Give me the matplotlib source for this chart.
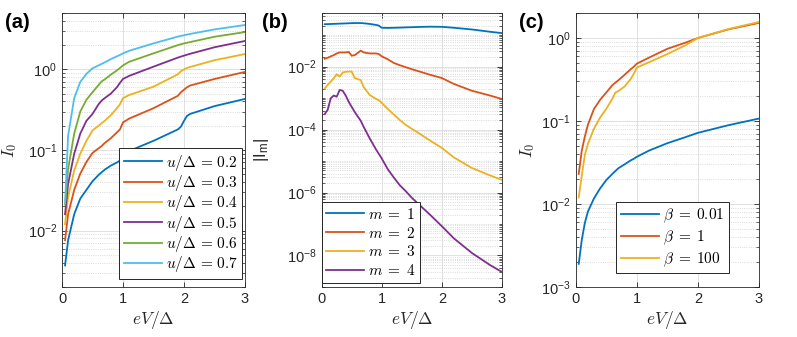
import numpy as np
import matplotlib
matplotlib.use("Agg")
import matplotlib.pyplot as plt
from matplotlib.ticker import FixedLocator, LogLocator, FuncFormatter, NullFormatter

plt.rcParams['font.family'] = ['Liberation Sans', 'DejaVu Sans']
plt.rcParams['mathtext.fontset'] = 'cm'

colors = ['#0072BD', '#D95319', '#EDB120', '#7E2F8E', '#77AC30', '#4DBEEE']

# ---------------- panel (a) ----------------
xa = [0.05, 0.1, 0.2, 0.3, 0.4, 0.5, 0.6, 0.65, 0.7, 0.8, 0.9, 0.95, 1.0, 1.1,
      1.5, 1.9, 1.95, 2.0, 2.05, 2.1, 2.5, 3.0]
u_labels = ['0.2', '0.3', '0.4', '0.5', '0.6', '0.7']
a_u02 = [0.0037, 0.0076, 0.016, 0.025, 0.032, 0.041, 0.049, 0.053, 0.057, 0.064, 0.070,
         0.074, 0.086, 0.097, 0.13, 0.18, 0.195, 0.23, 0.265, 0.28, 0.35, 0.43]
a_u03 = [0.0076, 0.016, 0.032, 0.051, 0.071, 0.092, 0.105, 0.112, 0.122, 0.14, 0.165,
         0.18, 0.22, 0.245, 0.33, 0.47, 0.52, 0.56, 0.60, 0.63, 0.76, 0.93]
a_u04 = [0.012, 0.026, 0.056, 0.09, 0.13, 0.175, 0.20, 0.215, 0.23, 0.27, 0.33,
         0.37, 0.44, 0.48, 0.61, 0.87, 0.95, 1.0, 1.04, 1.07, 1.3, 1.55]
a_u05 = [0.016, 0.038, 0.09, 0.16, 0.23, 0.28, 0.37, 0.41, 0.44, 0.50, 0.60,
         0.68, 0.76, 0.83, 1.08, 1.40, 1.44, 1.48, 1.52, 1.56, 1.88, 2.25]
a_u06 = [0.021, 0.058, 0.16, 0.30, 0.42, 0.52, 0.64, 0.71, 0.75, 0.86, 0.97,
         1.04, 1.12, 1.24, 1.58, 2.0, 2.05, 2.1, 2.14, 2.18, 2.54, 2.9]
a_u07 = [0.022, 0.15, 0.44, 0.70, 0.88, 1.03, 1.12, 1.17, 1.22, 1.34, 1.45,
         1.51, 1.58, 1.70, 2.1, 2.55, 2.6, 2.65, 2.7, 2.75, 3.13, 3.55]

# ---------------- panel (b) ----------------
xb = [0.05, 0.1, 0.15, 0.2, 0.25, 0.3, 0.35, 0.4, 0.45, 0.5, 0.55, 0.6, 0.65, 0.7,
      0.8, 0.9, 0.95, 1.0, 1.1, 1.2, 1.3, 1.4, 1.5, 1.6, 1.8, 2.0, 2.2, 2.5, 2.8, 3.0]
m_labels = ['1', '2', '3', '4']
b_m1 = [0.22, 0.222, 0.224, 0.226, 0.228, 0.23, 0.232, 0.234, 0.236, 0.238, 0.24, 0.24,
        0.24, 0.236, 0.225, 0.21, 0.2, 0.17, 0.168, 0.17, 0.172, 0.175, 0.177, 0.18,
        0.184, 0.182, 0.17, 0.15, 0.127, 0.115]
b_m2 = [0.0176, 0.019, 0.021, 0.023, 0.026, 0.028, 0.028, 0.028, 0.029, 0.022, 0.023,
        0.027, 0.032, 0.028, 0.026, 0.026, 0.025, 0.021, 0.017, 0.013, 0.011, 0.0095,
        0.0082, 0.0072, 0.0055, 0.0043, 0.0028, 0.0017, 0.0012, 0.00093]
b_m3 = [0.0020, 0.0026, 0.0033, 0.0042, 0.0057, 0.0048, 0.0064, 0.0068, 0.0069, 0.0069,
        0.0043, 0.0040, 0.0037, 0.0022, 0.00125, 0.00095, 0.00085, 0.0007, 0.00045,
        0.0003, 0.0002, 0.00014, 0.000105, 8e-5, 4.5e-5, 2.6e-5, 1.3e-5, 6e-6, 3.5e-6, 2.5e-6]
b_m4 = [3.1e-4, 4.2e-4, 9.8e-4, 1.2e-3, 1.1e-3, 1.8e-3, 1.7e-3, 1.2e-3, 7.6e-4, 5.2e-4,
        3.6e-4, 2.6e-4, 1.9e-4, 1.2e-4, 5.2e-5, 2.4e-5, 1.7e-5, 1.2e-5, 5.5e-6, 3e-6,
        1.7e-6, 1.1e-6, 6.8e-7, 4.5e-7, 2.0e-7, 8.5e-8, 3.5e-8, 1.2e-8, 5e-9, 3.0e-9]

# ---------------- panel (c) ----------------
xc = [0.05, 0.1, 0.15, 0.2, 0.3, 0.4, 0.5, 0.6, 0.65, 0.7, 0.8, 0.9, 0.95, 1.0,
      1.2, 1.5, 1.8, 2.0, 2.5, 3.0]
beta_labels = ['0.01', '1', '100']
c_b001 = [0.0019, 0.0037, 0.0059, 0.0081, 0.0117, 0.0154, 0.0194, 0.023, 0.025, 0.027,
          0.030, 0.0335, 0.035, 0.037, 0.044, 0.054, 0.064, 0.072, 0.089, 0.107]
c_b1 = [0.023, 0.044, 0.065, 0.09, 0.14, 0.18, 0.22, 0.27, 0.29, 0.31, 0.36, 0.42,
        0.45, 0.49, 0.58, 0.74, 0.88, 1.0, 1.27, 1.52]
c_b100 = [0.012, 0.022, 0.039, 0.053, 0.081, 0.11, 0.14, 0.185, 0.22, 0.23, 0.26, 0.32,
          0.37, 0.44, 0.51, 0.64, 0.82, 1.0, 1.28, 1.56]

axcol = '#262626'
fig = plt.figure(figsize=(7.97, 3.37), dpi=100)

def logfmt(v, pos):
    return r'$\mathregular{10^{%d}}$' % int(round(np.log10(v)))

def style(ax, ymajor, ylim):
    ax.set_yscale('log')
    ax.set_xlim(0, 3)
    ax.set_ylim(*ylim)
    ax.set_xticks([0, 1, 2, 3])
    ax.yaxis.set_major_locator(FixedLocator(ymajor))
    ax.yaxis.set_major_formatter(FuncFormatter(logfmt))
    ax.yaxis.set_minor_locator(LogLocator(base=10, subs=np.arange(1, 10), numticks=100))
    ax.yaxis.set_minor_formatter(NullFormatter())
    ax.tick_params(which='both', direction='in', top=True, right=True,
                   color=axcol, labelcolor=axcol, labelsize=10.5)
    ax.tick_params(which='major', length=3.5, width=0.6)
    ax.tick_params(which='minor', length=2, width=0.5)
    for s in ax.spines.values():
        s.set_color(axcol)
        s.set_linewidth(0.6)
    ax.grid(True, which='major', color='#dcdcdc', linewidth=0.6, linestyle='-')
    ax.grid(True, which='minor', axis='y', color='#cfcfcf', linewidth=0.6, linestyle=':')
    ax.set_axisbelow(True)
    ax.set_xlabel(r'$eV/\Delta$', fontsize=12.5, color=axcol)
    ax.xaxis.set_label_coords(0.5, -0.08)

def leg(ax, spacing, **kw):
    l = ax.legend(fontsize=11, handlelength=2.5, handletextpad=0.25,
                  labelspacing=spacing, borderpad=0.3, fancybox=False, framealpha=1,
                  edgecolor=axcol, **kw)
    l.get_frame().set_linewidth(0.7)
    return l

# (a)
ax1 = fig.add_axes([0.0778, 0.1484, 0.2296, 0.813])
for i, ys in enumerate([a_u02, a_u03, a_u04, a_u05, a_u06, a_u07]):
    ax1.plot(xa, ys, color=colors[i], lw=1.3, label=r'$u/\Delta\,=\,%s$' % u_labels[i])
style(ax1, [1e-2, 1e-1, 1e0], (2e-3, 5))
ax1.set_ylabel(r'$I_0$', fontsize=12.5, color=axcol)
ax1.yaxis.set_label_coords(-0.235, 0.5)
leg(ax1, 0.02, loc='lower right', bbox_to_anchor=(0.985, 0.03), borderaxespad=0)

# (b)
ax2 = fig.add_axes([0.4036, 0.1484, 0.2262, 0.813])
for i, ys in enumerate([b_m1, b_m2, b_m3, b_m4]):
    ax2.plot(xb, ys, color=colors[i], lw=1.3, label=r'$m\;=\;%s$' % m_labels[i])
style(ax2, [1e-8, 1e-6, 1e-4, 1e-2], (1e-9, 0.5))
ax2.set_ylabel(r'$\mathregular{|I_m|}$', fontsize=12, color=axcol)
ax2.yaxis.set_label_coords(-0.28, 0.5)
leg(ax2, 0.25, loc='lower left', bbox_to_anchor=(0.0, 0.015), borderaxespad=0)

# (c)
ax3 = fig.add_axes([0.7223, 0.1484, 0.23, 0.813])
for i, ys in enumerate([c_b001, c_b1, c_b100]):
    ax3.plot(xc, ys, color=colors[i], lw=1.3, label=r'$\beta\;=\;%s$' % beta_labels[i])
style(ax3, [1e-3, 1e-2, 1e-1, 1e0], (1e-3, 2))
ax3.set_ylabel(r'$I_0$', fontsize=12.5, color=axcol)
ax3.yaxis.set_label_coords(-0.21, 0.5)
leg(ax3, 0.22, loc='lower left', bbox_to_anchor=(0.22, 0.05), borderaxespad=0)

for xpix, t in [(5, '(a)'), (262, '(b)'), (519, '(c)')]:
    fig.text(xpix / 797, 1 - 22 / 337, t, fontsize=14.5, fontweight='bold',
             va='center', ha='left', color='black')

fig.savefig('out.png', dpi=100)
